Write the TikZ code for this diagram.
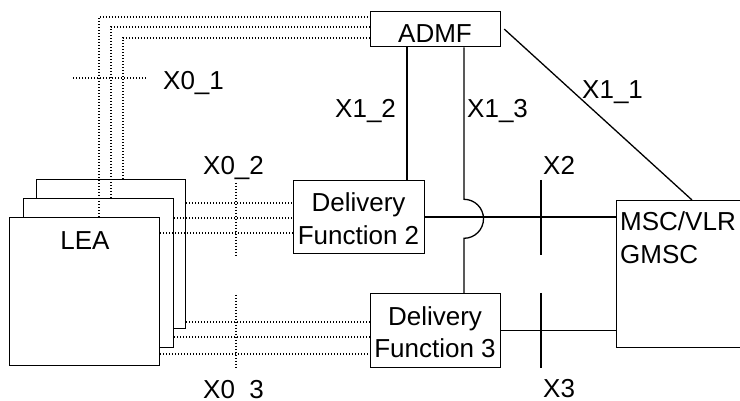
\documentclass[tikz,border=0pt]{standalone}
\usepackage{fontspec}
\setmainfont{Liberation Sans}
\usetikzlibrary{calc}
\begin{document}
\begin{tikzpicture}[x=1pt,y=-1pt,
  box/.style={draw,line width=1.3pt,fill=white,inner sep=0pt,anchor=north west},
  txt/.style={font=\fontsize{26}{31}\selectfont,inner sep=0pt},
  wire/.style={line width=1.3pt},
  dots/.style={line width=1.2pt,dash pattern=on 1.1pt off 1.9pt}]
\useasboundingbox (0,0) rectangle (740,401);
\clip (0,0) rectangle (740,401);
% boxes
\node[box,minimum width=130,minimum height=35] (admf) at (370,11) {};
\node[box,minimum width=131,minimum height=73] (df2) at (293,180) {};
\node[box,minimum width=130,minimum height=74] (df3) at (370,293) {};
\node[box,minimum width=160,minimum height=147] (msc) at (616,200) {};
\node[box,minimum width=149,minimum height=149] (lea1) at (36,179) {};
\node[box,minimum width=150,minimum height=149] (lea2) at (23,198) {};
\node[box,minimum width=150,minimum height=148] (lea3) at (9,217) {};
% texts
\node[txt,anchor=base] at (435,43) {ADMF};
\node[txt,anchor=base] at (358.5,212) {Delivery};
\node[txt,anchor=base] at (358.5,244) {Function 2};
\node[txt,anchor=base] at (435,326) {Delivery};
\node[txt,anchor=base] at (435,357) {Function 3};
\node[txt,anchor=base west] at (620,231) {MSC/VLR};
\node[txt,anchor=base west] at (620,264) {GMSC};
\node[txt,anchor=base] at (85,250) {LEA};
\node[txt,anchor=base west] at (163,90) {X0\_1};
\node[txt,anchor=base west] at (203,175) {X0\_2};
\node[txt,anchor=base west] at (203,398.5) {X0\_3};
\node[txt,anchor=base west] at (335,118) {X1\_2};
\node[txt,anchor=base west] at (467,118) {X1\_3};
\node[txt,anchor=base west] at (582,99) {X1\_1};
\node[txt,anchor=base west] at (543,175) {X2};
\node[txt,anchor=base west] at (543,397.5) {X3};
% solid connectors
\draw[wire] ($(admf.south west)+(37,0)$) -- ($(df2.north west)+(114,0)$);
\draw[wire] ($(admf.south west)+(94,0)$) -- ($(admf.south west)+(94,152)$)
  .. controls +(10.8,0) and +(0,-10.8) .. ($(admf.south west)+(113.5,171.5)$)
  .. controls +(0,10.8) and +(10.8,0) .. ($(admf.south west)+(94,191)$)
  -- ($(df3.north west)+(94,0)$);
\draw[wire] ($(admf.east)+(3,0)$) -- ($(msc.north west)+(76,0)$);
\draw[wire] (df2.east) -- (df2.east -| msc.west);
\draw[wire] (df3.east) -- (df3.east -| msc.west);
% reference point ticks
\draw[wire] (541,180) -- (541,255);
\draw[wire] (541,293) -- (541,368);
\draw[dots] (73,78) -- (147,78);
\draw[dots] (236,183) -- (236,257);
\draw[dots] (236,295) -- (236,368);
% dotted handover lines
\draw[dots] ($(lea1.north west)+(87,0)$) |- ($(admf.north west)+(0,27)$);
\draw[dots] ($(lea2.north west)+(88,0)$) |- ($(admf.north west)+(0,16)$);
\draw[dots] ($(lea3.north west)+(90,0)$) |- ($(admf.north west)+(0,6)$);
\coordinate (a1) at ($(lea1.north east)+(0,24)$);
\coordinate (a2) at ($(lea2.north east)+(0,20)$);
\coordinate (a3) at ($(lea3.north east)+(0,16)$);
\coordinate (b1) at ($(lea1.north east)+(0,143)$);
\coordinate (b2) at ($(lea2.north east)+(0,139)$);
\coordinate (b3) at ($(lea3.north east)+(0,137)$);
\draw[dots] (a1) -- (a1 -| df2.west);
\draw[dots] (a2) -- (a2 -| df2.west);
\draw[dots] (a3) -- (a3 -| df2.west);
\draw[dots] (b1) -- (b1 -| df3.west);
\draw[dots] (b2) -- (b2 -| df3.west);
\draw[dots] (b3) -- (b3 -| df3.west);
\end{tikzpicture}
\end{document}
